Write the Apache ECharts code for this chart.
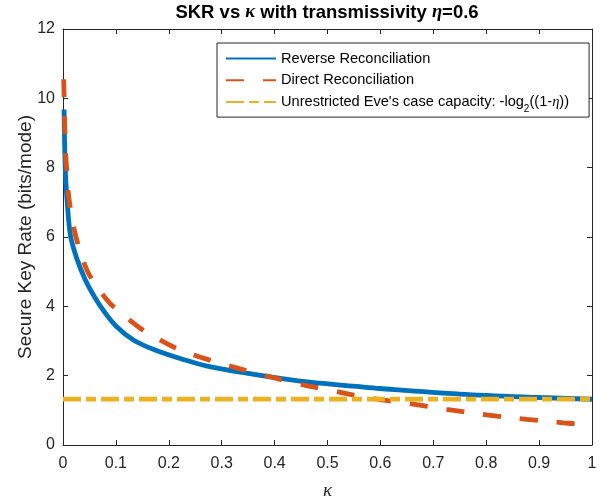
<!DOCTYPE html>
<html>
<head>
<meta charset="utf-8">
<script src="https://cdn.jsdelivr.net/npm/echarts@6/dist/echarts.min.js"></script>
<style>html,body{margin:0;padding:0;background:#fff}#c{width:605px;height:500px}</style>
</head>
<body>
<div id="c"></div>
<script>
// ---- data ----
const rrKappa = [0.002, 0.0044, 0.0082, 0.0145, 0.027, 0.0416, 0.0555, 0.076, 0.1015, 0.133, 0.174, 0.231, 0.277, 0.347, 0.448, 0.555, 0.599, 0.75, 0.902, 1.0];
const rrValues = [9.68, 7.93, 6.97, 6.01, 5.34, 4.78, 4.38, 3.89, 3.41, 3.03, 2.74, 2.45, 2.26, 2.07, 1.84, 1.69, 1.63, 1.47, 1.37, 1.32];
const drKappa = [0.0013, 0.003, 0.005, 0.008, 0.0107, 0.0157, 0.023, 0.0334, 0.046, 0.064, 0.088, 0.114, 0.146, 0.174, 0.21, 0.243, 0.297, 0.366, 0.435, 0.511, 0.574, 0.656, 0.725, 0.801, 0.877, 0.946, 0.97];
const drValues = [10.55, 9.5, 8.4, 7.76, 7.18, 6.66, 6.09, 5.55, 5.02, 4.57, 4.10, 3.75, 3.37, 3.11, 2.82, 2.62, 2.36, 2.07, 1.80, 1.56, 1.37, 1.19, 1.03, 0.87, 0.74, 0.64, 0.61];
const capKappa = [0, 1];
const capValues = [1.3219, 1.3219];
const seriesNames = ['Reverse Reconciliation', 'Direct Reconciliation', "Unrestricted Eve's case capacity: -log2((1-η))"];
const xTicks = {min: 0, max: 1, interval: 0.1};
const yTicks = {min: 0, max: 12, interval: 2};

const zip = (a, b) => a.map((v, i) => [v, b[i]]);
const axisColor = '#262626';
const sans = 'Liberation Sans, Arial, Helvetica, sans-serif';
const serif = 'Liberation Serif, DejaVu Serif, serif';

const chart = echarts.init(document.getElementById('c'), null, {renderer: 'canvas'});

const baseAxis = {
  axisLine: {show: true, onZero: false, lineStyle: {color: axisColor, width: 1}},
  axisTick: {show: true, inside: true, length: 5, lineStyle: {color: axisColor, width: 1}},
  splitLine: {show: false}
};

chart.setOption({
  animation: false,
  backgroundColor: '#fff',
  title: {
    text: '{b|SKR vs }{i|κ}{b| with transmissivity }{i|η}{b|=0.6}',
    left: 327, top: 3, textAlign: 'center', padding: 0,
    textStyle: {
      rich: {
        b: {fontFamily: sans, fontWeight: 'bold', fontSize: 18.5, color: '#000'},
        i: {fontFamily: serif, fontStyle: 'italic', fontSize: 18.5, color: '#000'}
      }
    }
  },
  grid: {left: 63, right: 13, top: 29, bottom: 55, containLabel: false, outerBoundsMode: 'none'},
  legend: {
    orient: 'vertical',
    left: 217, top: 43,
    padding: [8, 20, 3, 8],
    itemWidth: 50, itemHeight: 14, itemGap: 6.8,
    backgroundColor: '#fff',
    borderColor: axisColor, borderWidth: 1, borderRadius: 0,
    itemStyle: {opacity: 0},
    data: seriesNames,
    formatter: function (name) {
      if (name === seriesNames[2]) {
        return "{a|Unrestricted Eve's case capacity: -log}{s|2}{a|((1-}{i|η}{a|))}";
      }
      return '{a|' + name + '}';
    },
    textStyle: {
      rich: {
        a: {fontFamily: sans, fontSize: 14.6, color: '#000', lineHeight: 24, verticalAlign: 'middle'},
        s: {fontFamily: sans, fontSize: 10, color: '#000', lineHeight: 10, verticalAlign: 'bottom'},
        i: {fontFamily: serif, fontStyle: 'italic', fontSize: 14.6, color: '#000', lineHeight: 24, verticalAlign: 'middle'}
      }
    }
  },
  xAxis: [
    Object.assign({}, baseAxis, {
      type: 'value', position: 'bottom', min: xTicks.min, max: xTicks.max, interval: xTicks.interval,
      axisLabel: {show: true, margin: 11, color: axisColor, fontFamily: sans, fontSize: 16},
      name: 'κ', nameLocation: 'middle', nameGap: 36, nameMoveOverlap: false,
      nameTextStyle: {fontFamily: serif, fontStyle: 'italic', fontSize: 19, color: axisColor}
    }),
    Object.assign({}, baseAxis, {
      type: 'value', position: 'top', min: xTicks.min, max: xTicks.max, interval: xTicks.interval,
      axisLabel: {show: false}
    })
  ],
  yAxis: [
    Object.assign({}, baseAxis, {
      type: 'value', position: 'left', min: yTicks.min, max: yTicks.max, interval: yTicks.interval,
      axisLabel: {show: true, margin: 8, color: axisColor, fontFamily: sans, fontSize: 16},
      name: 'Secure Key Rate (bits/mode)', nameLocation: 'middle', nameGap: 28, nameMoveOverlap: false,
      nameTextStyle: {fontFamily: sans, fontSize: 19, color: axisColor}
    }),
    Object.assign({}, baseAxis, {
      type: 'value', position: 'right', min: yTicks.min, max: yTicks.max, interval: yTicks.interval,
      axisLabel: {show: false}
    })
  ],
  series: [
    {
      name: seriesNames[0], type: 'line', xAxisIndex: 0, yAxisIndex: 0,
      data: zip(rrKappa, rrValues), symbol: 'none', smooth: 0.35,
      lineStyle: {color: '#0072BD', width: 4.8, type: 'solid'},
      itemStyle: {color: '#0072BD'}, z: 2
    },
    {
      name: seriesNames[1], type: 'line', xAxisIndex: 0, yAxisIndex: 0,
      data: zip(drKappa, drValues), symbol: 'none', smooth: 0.35,
      lineStyle: {color: '#D95319', width: 4.8, type: [18, 19], cap: 'butt'},
      itemStyle: {color: '#D95319'}, z: 3
    },
    {
      name: seriesNames[2], type: 'line', xAxisIndex: 0, yAxisIndex: 0,
      data: zip(capKappa, capValues), symbol: 'none',
      lineStyle: {color: '#EDB120', width: 4.8, type: [18, 5, 10, 5], cap: 'butt'},
      itemStyle: {color: '#EDB120'}, z: 4
    }
  ]
});
</script>
</body>
</html>
